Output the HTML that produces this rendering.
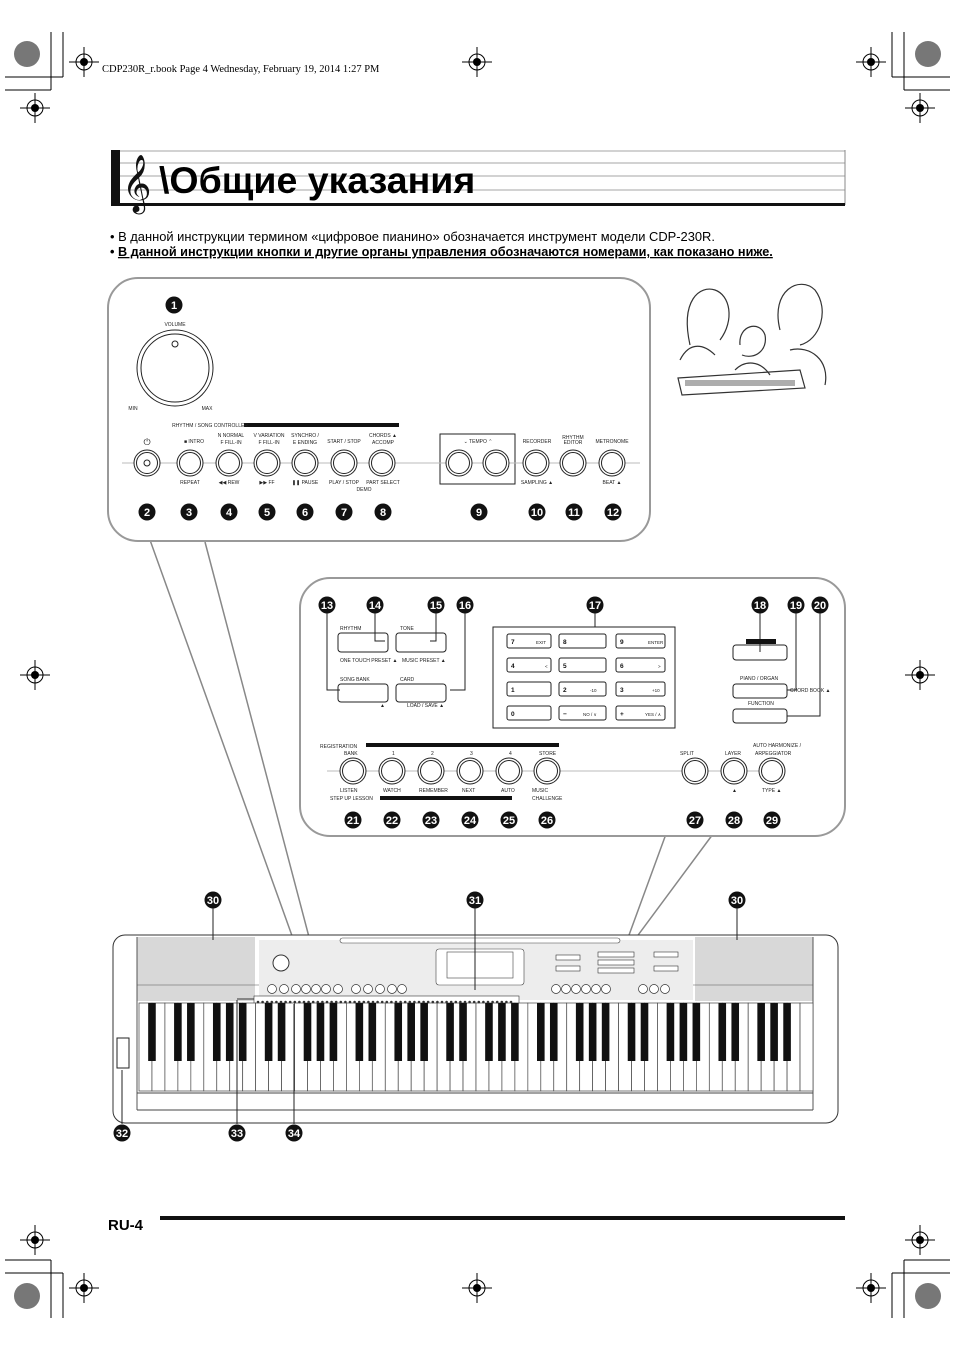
<!DOCTYPE html>
<html><head><meta charset="utf-8"><style>
body{margin:0;background:#fff}
svg{display:block}
text{font-family:"Liberation Sans",sans-serif}
.n circle{fill:#111}
.n text{fill:#fff;font-weight:bold;font-size:11px;text-anchor:middle}
.s{font-size:5px;fill:#222;text-anchor:middle}
</style></head><body>
<svg id="sv" width="955" height="1350" viewBox="0 0 955 1350" xmlns="http://www.w3.org/2000/svg">
<g id="marks" stroke="#000" fill="none" stroke-width="1">
<line x1="51" y1="32" x2="51" y2="90"/><line x1="63" y1="32" x2="63" y2="77"/>
<line x1="5" y1="77" x2="63" y2="77"/><line x1="5" y1="90" x2="51" y2="90"/>
<line x1="904" y1="32" x2="904" y2="90"/><line x1="892" y1="32" x2="892" y2="77"/>
<line x1="892" y1="77" x2="950" y2="77"/><line x1="904" y1="90" x2="950" y2="90"/>
<line x1="51" y1="1260" x2="51" y2="1318"/><line x1="63" y1="1273" x2="63" y2="1318"/>
<line x1="5" y1="1260" x2="51" y2="1260"/><line x1="5" y1="1273" x2="63" y2="1273"/>
<line x1="904" y1="1260" x2="904" y2="1318"/><line x1="892" y1="1273" x2="892" y2="1318"/>
<line x1="904" y1="1260" x2="950" y2="1260"/><line x1="892" y1="1273" x2="950" y2="1273"/>
</g>
<g fill="#777"><circle cx="27" cy="54" r="13"/><circle cx="928" cy="54" r="13"/><circle cx="27" cy="1296" r="13"/><circle cx="928" cy="1296" r="13"/></g>
<g id="cross"></g>
<text x="102" y="72" style="font-family:'Liberation Serif',serif;font-size:10.5px">CDP230R_r.book  Page 4  Wednesday, February 19, 2014  1:27 PM</text>

<!-- header -->
<g stroke="#888" stroke-width="0.8">
<line x1="111" y1="151" x2="845" y2="151"/><line x1="111" y1="163" x2="845" y2="163"/>
<line x1="111" y1="176" x2="845" y2="176"/><line x1="111" y1="190" x2="845" y2="190"/>
</g>
<line x1="845" y1="150" x2="845" y2="205" stroke="#888"/>
<rect x="111" y="203" width="734" height="3" fill="#111"/>
<rect x="111" y="150" width="9" height="55" fill="#111"/>
<text x="122" y="200" font-size="50" style="font-family:'DejaVu Sans',serif" fill="#111">𝄞</text>
<text x="159" y="193" font-size="37.5" font-weight="bold" fill="#000">\Общие указания</text>
<text x="110" y="241" font-size="12.9">•  В данной инструкции термином «цифровое пианино» обозначается инструмент модели CDP-230R.</text>
<text x="110" y="256" font-size="12.7" font-weight="bold">•  <tspan text-decoration="underline">В данной инструкции кнопки и другие органы управления обозначаются номерами, как показано ниже.</tspan></text>

<!-- panel 1 -->
<path d="M150,540 L300,958 M205,542 L314,956" stroke="#888" stroke-width="1.5" fill="none"/>
<rect x="108" y="278" width="542" height="263" rx="30" fill="#fff" stroke="#999" stroke-width="2"/>
<circle cx="175" cy="368" r="38" fill="none" stroke="#222"/><circle cx="175" cy="368" r="34" fill="none" stroke="#222"/>
<circle cx="175" cy="344" r="3" fill="none" stroke="#222"/>
<text class="s" x="175" y="326">VOLUME</text><text class="s" x="133" y="410">MIN</text><text class="s" x="207" y="410">MAX</text>
<line x1="122" y1="463" x2="640" y2="463" stroke="#bbb"/>
<rect x="244" y="423" width="155" height="4" fill="#111"/>
<text class="s" x="210" y="427">RHYTHM / SONG CONTROLLER</text>
<rect x="440" y="434" width="75" height="50" fill="#fff" stroke="#222"/>
<line x1="122" y1="463" x2="640" y2="463" stroke="#bbb"/>
<g id="b1"></g>
<g font-size="5" fill="#222" text-anchor="middle">
<text x="147" y="445" font-size="9">⏻</text>
<text x="194" y="443">■ INTRO</text><text x="231" y="437">N NORMAL</text><text x="231" y="444">F FILL-IN</text>
<text x="269" y="437">V VARIATION</text><text x="269" y="444">F FILL-IN</text>
<text x="305" y="437">SYNCHRO /</text><text x="305" y="444">E ENDING</text>
<text x="344" y="443">START / STOP</text><text x="383" y="437">CHORDS ▲</text><text x="383" y="444">ACCOMP</text>
<text x="190" y="484">REPEAT</text><text x="229" y="484">◀◀ REW</text><text x="267" y="484">▶▶ FF</text><text x="305" y="484">❚❚ PAUSE</text>
<text x="344" y="484">PLAY / STOP</text><text x="383" y="484">PART SELECT</text><text x="364" y="491">DEMO</text>
<text x="478" y="443">⌄   TEMPO   ⌃</text><text x="537" y="443">RECORDER</text><text x="573" y="439">RHYTHM</text><text x="573" y="444">EDITOR</text><text x="612" y="443">METRONOME</text>
<text x="537" y="484">SAMPLING ▲</text><text x="612" y="484">BEAT ▲</text>
</g>

<!-- illustration -->
<g stroke="#333" fill="none" stroke-width="1.2">
<path d="M690,345 C680,300 700,285 715,290 C730,295 735,320 720,340 M680,360 C690,340 705,345 715,355"/>
<path d="M780,330 C770,290 800,275 815,290 C830,310 820,340 800,345 M790,350 C810,345 830,360 825,385"/>
<path d="M740,345 C738,325 760,320 765,335 C768,350 755,360 742,355 M735,370 C745,360 760,360 770,375"/>
<path d="M678,378 L800,370 L805,388 L682,395 Z"/>
</g>
<g fill="#333"><rect x="685" y="380" width="110" height="6" opacity=".4"/></g>

<!-- panel 2 -->
<path d="M666,834 L625,946 M713,834 L630,946" stroke="#888" stroke-width="1.5" fill="none"/>
<rect x="300" y="578" width="545" height="258" rx="30" fill="#fff" stroke="#999" stroke-width="2"/>
<g fill="#fff" stroke="#222" stroke-width="1">
<rect x="338" y="633" width="50" height="19" rx="3"/><rect x="396" y="633" width="50" height="19" rx="3"/>
<rect x="338" y="684" width="50" height="18" rx="3"/><rect x="396" y="684" width="50" height="18" rx="3"/>
<rect x="493" y="627" width="182" height="101"/>
<rect x="733" y="645" width="54" height="15" rx="3"/><rect x="733" y="684" width="54" height="14" rx="3"/><rect x="733" y="709" width="54" height="14" rx="3"/>
</g>
<g id="kp"></g>
<g stroke="#222" fill="none"><path d="M327,613 V690 H340 M375,613 V641 H385 M436,613 V641 H430 M465,613 V690 H450 M595,613 V627 M760,613 V652 M796,613 V690 H787 M820,613 V716 H787"/></g>
<rect x="746" y="639" width="30" height="5" fill="#111"/>
<g font-size="5" fill="#222">
<text x="340" y="630">RHYTHM</text><text x="400" y="630">TONE</text><text x="340" y="681">SONG BANK</text><text x="400" y="681">CARD</text>
<text x="340" y="662">ONE TOUCH PRESET ▲</text><text x="402" y="662">MUSIC PRESET ▲</text><text x="380" y="707">▲</text><text x="407" y="707">LOAD / SAVE ▲</text>
<text x="740" y="680">PIANO / ORGAN</text><text x="790" y="692">CHORD BOOK ▲</text><text x="748" y="705">FUNCTION</text>
<text x="320" y="748">REGISTRATION</text><text x="344" y="755">BANK</text><text x="392" y="755">1</text><text x="431" y="755">2</text><text x="470" y="755">3</text><text x="509" y="755">4</text><text x="539" y="755">STORE</text>
<text x="680" y="755">SPLIT</text><text x="725" y="755">LAYER</text><text x="753" y="747">AUTO HARMONIZE /</text><text x="755" y="755">ARPEGGIATOR</text>
<text x="340" y="792">LISTEN</text><text x="383" y="792">WATCH</text><text x="419" y="792">REMEMBER</text><text x="462" y="792">NEXT</text><text x="501" y="792">AUTO</text><text x="532" y="792">MUSIC</text>
<text x="330" y="800">STEP UP LESSON</text><text x="532" y="800">CHALLENGE</text><text x="732" y="792">▲</text><text x="762" y="792">TYPE ▲</text>
</g>
<rect x="366" y="743" width="193" height="4" fill="#111"/>
<rect x="380" y="796" width="132" height="4" fill="#111"/>
<line x1="327" y1="771" x2="785" y2="771" stroke="#bbb"/>
<g id="b2"></g>

<!-- keyboard -->
<rect x="113" y="935" width="725" height="188" rx="12" fill="#fff" stroke="#333"/>
<rect x="137" y="937" width="118" height="64" fill="#d8d8d8"/><rect x="695" y="937" width="118" height="64" fill="#d8d8d8"/>
<line x1="137" y1="985" x2="813" y2="985" stroke="#555" stroke-width="0.6"/>
<line x1="137" y1="937" x2="137" y2="1110" stroke="#555"/><line x1="813" y1="937" x2="813" y2="1110" stroke="#555"/>
<rect x="259" y="940" width="434" height="60" fill="#ededed"/>
<rect x="340" y="938" width="280" height="5" rx="2.5" fill="#fff" stroke="#444" stroke-width=".6"/>
<rect x="436" y="949" width="88" height="36" rx="3" fill="#fff" stroke="#444" stroke-width=".6"/>
<rect x="447" y="952" width="66" height="26" fill="#fff" stroke="#444" stroke-width=".6"/>
<circle cx="281" cy="963" r="8" fill="#fff" stroke="#333"/>
<rect x="254" y="996" width="265" height="11" fill="#fff" stroke="#333" stroke-width=".6"/>
<line x1="237" y1="999" x2="254" y2="999" stroke="#333"/>
<g id="kb"></g>
<g id="kbtn"></g>
<rect x="117" y="1038" width="12" height="30" fill="#fff" stroke="#222"/>
<path d="M213,907 V940 M475,907 V990 M737,907 V940 M122,1124 V1070 M237,1124 V1000 M294,1124 V1004" stroke="#222" fill="none"/>

<!-- numbers -->
<g class="n">
<circle cx="174" cy="305" r="8.5"/><text x="174" y="309">1</text>
<circle cx="147" cy="512" r="8.5"/><text x="147" y="516">2</text>
<circle cx="189" cy="512" r="8.5"/><text x="189" y="516">3</text>
<circle cx="229" cy="512" r="8.5"/><text x="229" y="516">4</text>
<circle cx="267" cy="512" r="8.5"/><text x="267" y="516">5</text>
<circle cx="305" cy="512" r="8.5"/><text x="305" y="516">6</text>
<circle cx="344" cy="512" r="8.5"/><text x="344" y="516">7</text>
<circle cx="383" cy="512" r="8.5"/><text x="383" y="516">8</text>
<circle cx="479" cy="512" r="8.5"/><text x="479" y="516">9</text>
<circle cx="537" cy="512" r="8.5"/><text x="537" y="516">10</text>
<circle cx="574" cy="512" r="8.5"/><text x="574" y="516">11</text>
<circle cx="613" cy="512" r="8.5"/><text x="613" y="516">12</text>
<circle cx="327" cy="605" r="8.5"/><text x="327" y="609">13</text>
<circle cx="375" cy="605" r="8.5"/><text x="375" y="609">14</text>
<circle cx="436" cy="605" r="8.5"/><text x="436" y="609">15</text>
<circle cx="465" cy="605" r="8.5"/><text x="465" y="609">16</text>
<circle cx="595" cy="605" r="8.5"/><text x="595" y="609">17</text>
<circle cx="760" cy="605" r="8.5"/><text x="760" y="609">18</text>
<circle cx="796" cy="605" r="8.5"/><text x="796" y="609">19</text>
<circle cx="820" cy="605" r="8.5"/><text x="820" y="609">20</text>
<circle cx="353" cy="820" r="8.5"/><text x="353" y="824">21</text>
<circle cx="392" cy="820" r="8.5"/><text x="392" y="824">22</text>
<circle cx="431" cy="820" r="8.5"/><text x="431" y="824">23</text>
<circle cx="470" cy="820" r="8.5"/><text x="470" y="824">24</text>
<circle cx="509" cy="820" r="8.5"/><text x="509" y="824">25</text>
<circle cx="547" cy="820" r="8.5"/><text x="547" y="824">26</text>
<circle cx="695" cy="820" r="8.5"/><text x="695" y="824">27</text>
<circle cx="734" cy="820" r="8.5"/><text x="734" y="824">28</text>
<circle cx="772" cy="820" r="8.5"/><text x="772" y="824">29</text>
<circle cx="213" cy="900" r="8.5"/><text x="213" y="904">30</text>
<circle cx="475" cy="900" r="8.5"/><text x="475" y="904">31</text>
<circle cx="737" cy="900" r="8.5"/><text x="737" y="904">30</text>
<circle cx="122" cy="1133" r="8.5"/><text x="122" y="1137">32</text>
<circle cx="237" cy="1133" r="8.5"/><text x="237" y="1137">33</text>
<circle cx="294" cy="1133" r="8.5"/><text x="294" y="1137">34</text>
</g>
<g font-size="6.5" font-weight="bold" fill="#111">
<text x="511" y="644">7</text><text x="563" y="644">8</text><text x="620" y="644">9</text>
<text x="511" y="668">4</text><text x="563" y="668">5</text><text x="620" y="668">6</text>
<text x="511" y="692">1</text><text x="563" y="692">2</text><text x="620" y="692">3</text>
<text x="511" y="716">0</text><text x="563" y="716">−</text><text x="620" y="716">+</text>
</g>
<g font-size="4.5" fill="#222"><text x="536" y="644">EXIT</text><text x="648" y="644">ENTER</text><text x="545" y="668">&lt;</text><text x="658" y="668">&gt;</text><text x="590" y="692">-10</text><text x="652" y="692">+10</text><text x="583" y="716">NO / ∨</text><text x="645" y="716">YES / ∧</text></g>

<text x="108" y="1230" font-size="15" font-weight="bold">RU-4</text>
<rect x="160" y="1216" width="685" height="4" fill="#111"/>
</svg>
<script>
var NS="http://www.w3.org/2000/svg";
function el(p,t,a){var e=document.createElementNS(NS,t);for(var k in a)e.setAttribute(k,a[k]);document.getElementById(p).appendChild(e);return e}
[[84,62],[477,62],[35,108],[920,108],[871,62],[35,675],[920,675],[35,1240],[920,1240],[84,1288],[477,1288],[871,1288]].forEach(function(c){
el('cross','circle',{cx:c[0],cy:c[1],r:8,fill:'none',stroke:'#000'});el('cross','circle',{cx:c[0],cy:c[1],r:4,fill:'#000'});
el('cross','line',{x1:c[0]-15,y1:c[1],x2:c[0]+15,y2:c[1],stroke:'#000'});el('cross','line',{x1:c[0],y1:c[1]-15,x2:c[0],y2:c[1]+15,stroke:'#000'});});
function rb(g,x,y,r){el(g,'circle',{cx:x,cy:y,r:r,fill:'#fff',stroke:'#222'});el(g,'circle',{cx:x,cy:y,r:r-2.5,fill:'none',stroke:'#222'});}
[147,190,229,267,305,344,382,459,496,536,573,612].forEach(function(x){rb('b1',x,463,13)});
el('b1','circle',{cx:147,cy:463,r:3,fill:'none',stroke:'#222'});
[353,392,431,470,509,547,695,734,772].forEach(function(x){rb('b2',x,771,13)});
[[507,551],[559,606],[616,665]].forEach(function(c){[634,658,682,706].forEach(function(y){el('kp','rect',{x:c[0],y:y,width:c[1]-c[0],height:14,rx:2,fill:'#fff',stroke:'#222'})})});
var x0=139,w=674/52;
for(var i=0;i<52;i++)el('kb','rect',{x:x0+i*w,y:1003,width:w,height:88,fill:'#fff',stroke:'#444','stroke-width':0.7});
el('kb','line',{x1:137,y1:1093,x2:813,y2:1093,stroke:'#444'});el('kb','line',{x1:137,y1:1110,x2:813,y2:1110,stroke:'#444'});
var names=['A','B','C','D','E','F','G'];
for(var i=0;i<51;i++){var n=names[i%7];if(n!='B'&&n!='E')el('kb','rect',{x:x0+(i+1)*w-3.8,y:1003,width:7.6,height:58,fill:'#111'});}
for(var i=0;i<56;i++)el('kbtn','circle',{cx:258+i*4.6,cy:1002,r:1.3,fill:'#333'});
[[272,989],[284,989],[296,989],[306,989],[316,989],[326,989],[338,989],[356,989],[368,989],[380,989],[392,989],[402,989],[556,989],[566,989],[576,989],[586,989],[596,989],[606,989],[643,989],[654,989],[665,989]].forEach(function(c){el('kbtn','circle',{cx:c[0],cy:c[1],r:4.5,fill:'#fff',stroke:'#333','stroke-width':0.7})});
[[556,955],[556,966],[598,952],[598,960],[598,968],[654,952],[654,966]].forEach(function(c){el('kbtn','rect',{x:c[0],y:c[1],width:c[0]>590&&c[0]<640?36:24,height:5,fill:'#fff',stroke:'#333','stroke-width':0.6})});
</script>
</body></html>
